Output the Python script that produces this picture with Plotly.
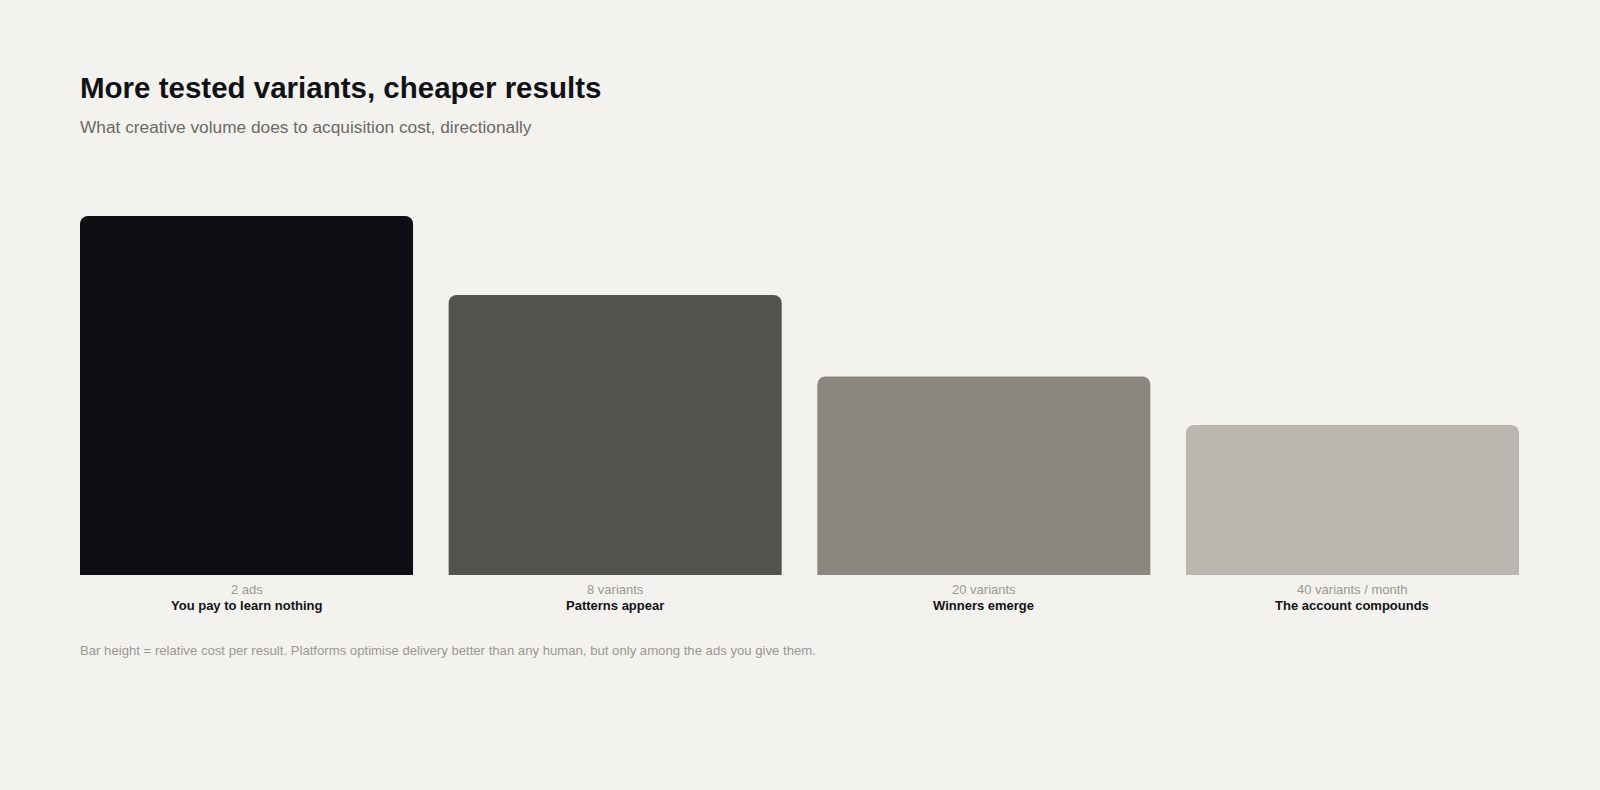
import plotly.graph_objects as go

# Data
stages = ["2 ads", "8 variants", "20 variants", "40 variants / month"]
outcomes = ["You pay to learn nothing", "Patterns appear", "Winners emerge", "The account compounds"]
relative_cost = [100, 78, 55.3, 41.8]
bar_colors = ["#0e0f14", "#55534e", "#8a877e", "#bab7af"]

title = "More tested variants, cheaper results"
subtitle = "What creative volume does to acquisition cost, directionally"
footnote = ("Bar height = relative cost per result. Platforms optimise delivery better than any human, "
            "but only among the ads you give them.")

W, H = 1600, 790
BG = "#f3f2ee"
plot_left, plot_right = 79.6, 1519.4
plot_top, plot_bottom = 216.3, 575.5
plot_h = plot_bottom - plot_top
gap = 0.0966

def py(y_px):
    return (plot_bottom - y_px) / plot_h

FONT = "Helvetica Neue, Helvetica, Arial, Liberation Sans, sans-serif"

fig = go.Figure(
    go.Bar(
        x=list(range(len(stages))),
        y=relative_cost,
        marker=dict(color=bar_colors, line=dict(width=0), cornerradius=8),
        hoverinfo="skip",
    )
)

fig.update_layout(
    width=W, height=H,
    paper_bgcolor=BG, plot_bgcolor=BG,
    margin=dict(l=plot_left, r=W - plot_right, t=plot_top, b=H - plot_bottom, autoexpand=False),
    bargap=gap,
    showlegend=False,
    font=dict(family=FONT, color="#111216"),
)
fig.update_xaxes(
    range=[-0.5 + gap / 2, len(stages) - 0.5 - gap / 2],
    showticklabels=False,
    showgrid=False, zeroline=False, showline=False, ticks="",
)
fig.update_yaxes(range=[0, 100], visible=False, showgrid=False, zeroline=False)

for i, (s, o) in enumerate(zip(stages, outcomes)):
    fig.add_annotation(text=s, xref="x", yref="paper", x=i, y=py(590), xanchor="center",
                       yanchor="middle", showarrow=False,
                       font=dict(size=13, color="#9a9893", family=FONT))
    fig.add_annotation(text=f"<b>{o}</b>", xref="x", yref="paper", x=i, y=py(606.5), xanchor="center",
                       yanchor="middle", showarrow=False,
                       font=dict(size=13, color="#111216", family=FONT))

fig.add_annotation(text=f"<b>{title}</b>", xref="paper", yref="paper", x=0, y=py(88), xanchor="left",
                   xshift=-2, yanchor="middle", showarrow=False,
                   font=dict(size=29.5, color="#111216", family=FONT))
fig.add_annotation(text=subtitle, xref="paper", yref="paper", x=0, y=py(127.5), xanchor="left",
                   xshift=-2, yanchor="middle", showarrow=False,
                   font=dict(size=17.3, color="#6b6a66", family=FONT))
fig.add_annotation(text=footnote, xref="paper", yref="paper", x=0, y=py(651.5), xanchor="left",
                   xshift=-2, yanchor="middle", showarrow=False,
                   font=dict(size=13.15, color="#9a9893", family=FONT))

fig.write_html(
    "out.html",
    config={"displayModeBar": False, "staticPlot": True},
    post_script=(
        "document.documentElement.style.margin='0';"
        "document.body.style.margin='0';"
        "document.body.style.padding='0';"
        "document.body.style.overflow='hidden';"
        f"document.documentElement.style.background='{BG}';"
        f"document.body.style.background='{BG}';"
    ),
)
